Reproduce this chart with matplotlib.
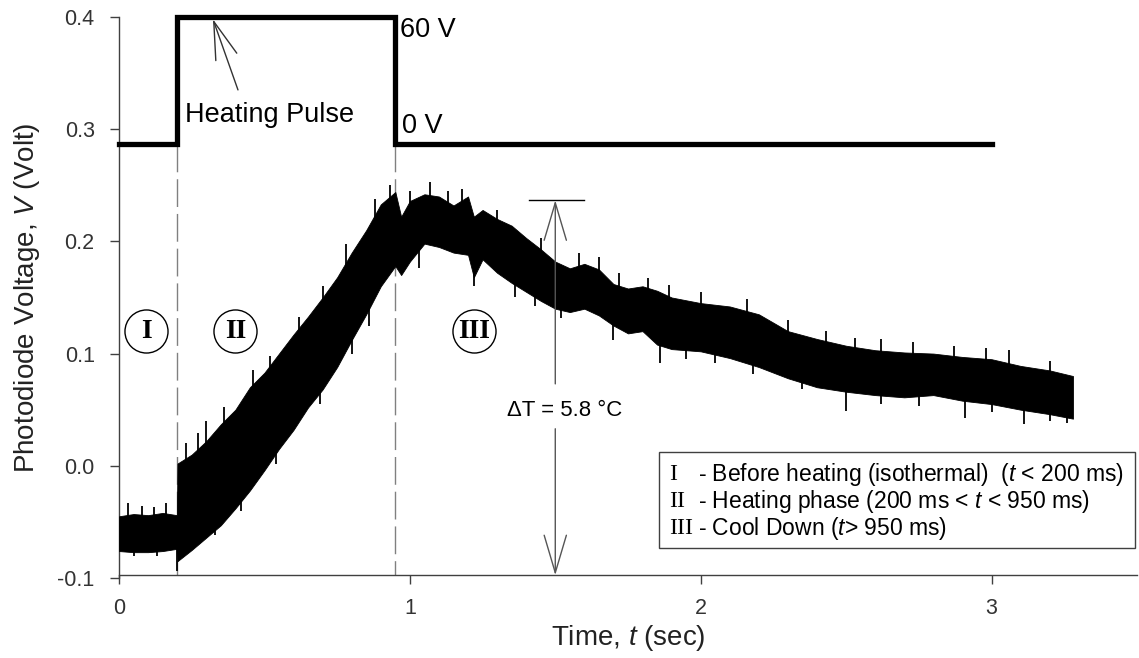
import matplotlib
matplotlib.use("Agg")

import matplotlib.pyplot as plt
import numpy as np
from matplotlib.patches import Rectangle

plt.rcParams["font.family"] = ["Liberation Sans", "DejaVu Sans"]
plt.rcParams["mathtext.fontset"] = "custom"
plt.rcParams["mathtext.rm"] = "Liberation Sans"
plt.rcParams["mathtext.it"] = "Liberation Sans:italic"
plt.rcParams["axes.unicode_minus"] = False

# ---------------------------------------------------------------------------
# Data
# ---------------------------------------------------------------------------

# heating pulse trace (drawn on the same voltage axis)
pulse_t = [0.0, 0.2, 0.2, 0.95, 0.95, 3.0]
pulse_v = [0.287, 0.287, 0.4, 0.4, 0.287, 0.287]

# photodiode signal: noise band envelope (upper / lower)
sig_t = [0.00, 0.05, 0.10, 0.15, 0.199, 0.201, 0.25, 0.30, 0.35, 0.40,
         0.45, 0.50, 0.55, 0.60, 0.65, 0.70, 0.75, 0.80, 0.85, 0.90,
         0.95, 0.97, 1.00, 1.05, 1.10, 1.15, 1.20, 1.22, 1.25, 1.30,
         1.35, 1.40, 1.45, 1.50, 1.55, 1.60, 1.65, 1.70, 1.75, 1.80,
         1.85, 1.90, 2.00, 2.10, 2.20, 2.30, 2.40, 2.50, 2.60, 2.70,
         2.80, 2.90, 3.00, 3.10, 3.20, 3.28]
sig_hi = [-0.045, -0.043, -0.044, -0.042, -0.044, 0.002, 0.010, 0.022, 0.037, 0.050,
          0.070, 0.083, 0.100, 0.117, 0.133, 0.150, 0.168, 0.190, 0.210, 0.233,
          0.244, 0.222, 0.236, 0.242, 0.240, 0.232, 0.240, 0.222, 0.228, 0.220,
          0.214, 0.203, 0.193, 0.182, 0.176, 0.180, 0.175, 0.162, 0.158, 0.160,
          0.156, 0.150, 0.145, 0.142, 0.135, 0.120, 0.113, 0.107, 0.103, 0.101,
          0.100, 0.097, 0.095, 0.089, 0.085, 0.080]
sig_lo = [-0.076, -0.077, -0.077, -0.076, -0.074, -0.085, -0.075, -0.064, -0.053, -0.038,
          -0.022, -0.004, 0.015, 0.032, 0.052, 0.068, 0.088, 0.112, 0.135, 0.160,
          0.178, 0.170, 0.182, 0.198, 0.195, 0.190, 0.188, 0.168, 0.184, 0.172,
          0.163, 0.155, 0.147, 0.140, 0.137, 0.140, 0.134, 0.125, 0.118, 0.120,
          0.108, 0.104, 0.102, 0.096, 0.088, 0.078, 0.070, 0.066, 0.063, 0.061,
          0.063, 0.058, 0.055, 0.050, 0.046, 0.042]

# isolated noise spikes sticking out of the band
spike_up_t = [0.03, 0.08, 0.12, 0.16, 0.23, 0.27, 0.30, 0.36, 0.46, 0.52,
              0.62, 0.70, 0.78, 0.88, 0.93, 1.00, 1.07, 1.13, 1.18, 1.30,
              1.45, 1.58, 1.65, 1.72, 1.82, 1.89, 2.00, 2.16, 2.30, 2.43,
              2.53, 2.62, 2.73, 2.87, 2.98, 3.06, 3.20]
spike_up_v = [-0.033, -0.036, -0.037, -0.033, 0.020, 0.029, 0.040, 0.052, 0.085, 0.098,
              0.133, 0.160, 0.198, 0.238, 0.250, 0.245, 0.253, 0.245, 0.247, 0.228,
              0.203, 0.190, 0.186, 0.172, 0.167, 0.161, 0.155, 0.149, 0.130, 0.120,
              0.114, 0.113, 0.110, 0.107, 0.105, 0.103, 0.093]
spike_dn_t = [0.05, 0.13, 0.20, 0.33, 0.42, 0.54, 0.69, 0.80, 0.86, 1.03,
              1.22, 1.36, 1.43, 1.52, 1.70, 1.86, 1.95, 2.05, 2.18, 2.35,
              2.50, 2.62, 2.75, 2.91, 3.00, 3.11, 3.20, 3.26]
spike_dn_v = [-0.080, -0.080, -0.094, -0.062, -0.040, 0.002, 0.055, 0.100, 0.125, 0.176,
              0.160, 0.150, 0.142, 0.132, 0.112, 0.092, 0.095, 0.092, 0.082, 0.068,
              0.049, 0.055, 0.053, 0.043, 0.048, 0.037, 0.040, 0.038]

# phase markers
phase_t = [0.094, 0.40, 1.22]
phase_v = [0.12, 0.12, 0.12]
phase_labels = ["I", "II", "III"]
phase_bounds = [0.2, 0.95]

# temperature rise marker
dT_t = 1.5
dT_top = 0.2366
dT_label = "ΔT = 5.8 °C"

legend_rows = [
    ("I", "- Before heating (isothermal)  ($t$ < 200 ms)"),
    ("II", "- Heating phase (200 ms < $t$ < 950 ms)"),
    ("III", "- Cool Down ($t$> 950 ms)"),
]

# ---------------------------------------------------------------------------
fig = plt.figure(figsize=(11.39, 6.58), dpi=100)
ax = fig.add_axes([0.1045, 0.1216, 0.8937, 0.8526])

x_floor = -0.0975
ax.set_xlim(0, 3.5)
ax.set_ylim(-0.1, 0.4)

# signal band
ax.fill_between(sig_t, sig_lo, sig_hi, color="black", lw=0.6, zorder=3)
mid = (np.array(sig_hi) + np.array(sig_lo)) / 2
ax.vlines(spike_up_t, np.interp(spike_up_t, sig_t, mid), spike_up_v, color="black", lw=1.3, zorder=3)
ax.vlines(spike_dn_t, spike_dn_v, np.interp(spike_dn_t, sig_t, mid), color="black", lw=1.3, zorder=3)

# heating pulse
ax.plot(pulse_t, pulse_v, color="black", lw=3.8, solid_joinstyle="miter", clip_on=False, zorder=4)

# phase boundaries
for tb in phase_bounds:
    ax.plot([tb, tb], [pulse_v[0], x_floor], color="#808080", lw=1.0, dashes=(20, 5), zorder=2)

# phase circles
ax.plot(phase_t, phase_v, "o", ms=31, mfc="white", mec="black", mew=1.0, zorder=5)
for t, v, lab in zip(phase_t, phase_v, phase_labels):
    ax.text(t, v, lab, ha="center", va="center", fontsize=20, fontweight="bold",
            family="Liberation Serif", zorder=6)

# pulse annotations
ax.text(0.966, 0.388, "60 V", fontsize=19.5, va="center", ha="left")
ax.text(0.972, 0.303, "0 V", fontsize=19.5, va="center", ha="left")
ax.text(0.227, 0.313, "Heating Pulse", fontsize=19.5, va="center", ha="left")
arrow_kw = dict(arrowstyle="->,head_length=2.7,head_width=0.8", mutation_scale=10,
                lw=1.0, shrinkA=0, shrinkB=0)
ax.annotate("", xy=(0.323, 0.398), xytext=(0.409, 0.335),
            arrowprops=dict(color="#333333", **arrow_kw))

# delta T marker
ax.plot([dT_t - 0.09, dT_t + 0.10], [dT_top, dT_top], color="black", lw=1.0)
ax.annotate("", xy=(dT_t, dT_top), xytext=(dT_t, 0.073),
            arrowprops=dict(color="#555555", **arrow_kw))
ax.annotate("", xy=(dT_t, x_floor), xytext=(dT_t, 0.033),
            arrowprops=dict(color="#555555", **arrow_kw), zorder=2)
ax.text(1.533, 0.049, dT_label, fontsize=16, ha="center", va="center")

# legend box
ax.add_patch(Rectangle((0.530, 0.0535), 0.468, 0.171, transform=ax.transAxes,
                       fill=False, ec="#404040", lw=1.0, zorder=5))
for (num, desc), yy in zip(legend_rows, [0.1836, 0.1355, 0.0891]):
    ax.text(0.540, yy, num, transform=ax.transAxes, fontsize=17,
            family="Liberation Serif", va="center", ha="left")
    ax.text(0.569, yy, desc, transform=ax.transAxes, fontsize=16.5,
            va="center", ha="left")

# axes styling
for side in ("top", "right"):
    ax.spines[side].set_visible(False)
ax.spines["bottom"].set_position(("data", x_floor))
for side in ("left", "bottom"):
    ax.spines[side].set_color("#404040")
    ax.spines[side].set_linewidth(1.0)

ax.set_xticks([0, 1, 2, 3])
ax.set_yticks([-0.1, 0.0, 0.1, 0.2, 0.3, 0.4])
ax.set_yticklabels([f"{v:.1f}" for v in [-0.1, 0.0, 0.1, 0.2, 0.3, 0.4]])
ax.tick_params(direction="out", length=6.5, width=1.0, color="#404040",
               labelsize=15.5, labelcolor="#333333")
ax.tick_params(axis="y", pad=11)
ax.tick_params(axis="x", pad=10)

ax.set_xlabel("Time, $t$ (sec)", fontsize=20, color="#222222")
ax.set_ylabel("Photodiode Voltage, $V$ (Volt)", fontsize=20, color="#222222")
ax.xaxis.set_label_coords(0.5, -0.08)
ax.yaxis.set_label_coords(-0.076, 0.5)

fig.savefig("out.png", dpi=100, facecolor="white")
plt.close(fig)
